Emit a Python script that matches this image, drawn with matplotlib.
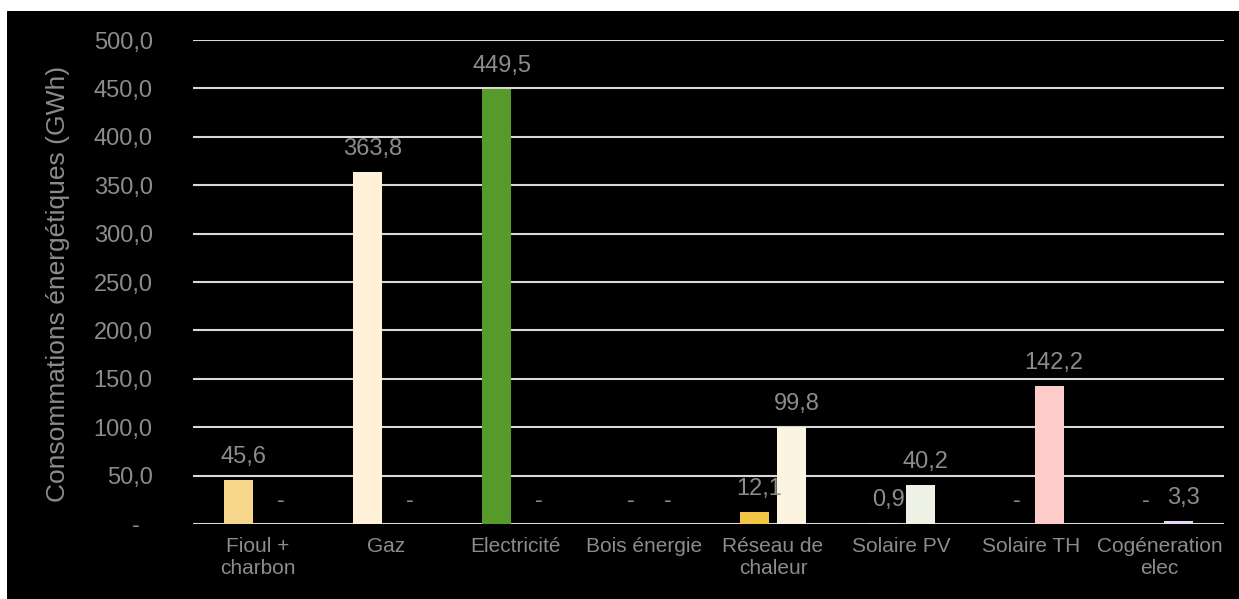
import matplotlib.pyplot as plt
import matplotlib.patches as mpatches
import numpy as np

# Données (GWh)
categories = ["Fioul +\ncharbon", "Gaz", "Electricité", "Bois énergie",
              "Réseau de\nchaleur", "Solaire PV", "Solaire TH", "Cogéneration\nelec"]
serie_1 = [45.6, 363.8, 449.5, 0.0, 12.1, 0.9, 0.0, 0.0]
serie_2 = [0.0, 0.0, 0.0, 0.0, 99.8, 40.2, 142.2, 3.3]
couleurs_1 = ["#F6D68B", "#FFF0D8", "#559A2A", "#D9D9D9",
              "#F3C545", "#E6EDD8", "#FFCCCC", "#EBD5F5"]
couleurs_2 = ["#F6D68B", "#FFF0D8", "#559A2A", "#D9D9D9",
              "#FCF3E1", "#EEF2E4", "#FFCCCC", "#EBD5F5"]
yticks = [0, 50, 100, 150, 200, 250, 300, 350, 400, 450, 500]

GRIS = "#8C8C8C"
plt.rcParams['font.family'] = ['Liberation Sans', 'DejaVu Sans']
plt.rcParams['font.size'] = 15

fig = plt.figure(figsize=(12.39, 5.99), dpi=100, facecolor="white")
# fond noir du graphique (avec une petite bordure blanche en haut / à gauche)
fond = mpatches.Rectangle((7 / 1239, 0), 1, (599 - 11) / 599,
                          transform=fig.transFigure, facecolor="black",
                          edgecolor="none", zorder=-10)
fig.patches.append(fond)

ax = fig.add_axes([193 / 1239, 1 - 524 / 599, (1224 - 193) / 1239, (524 - 40) / 599])
ax.set_facecolor("black")

x = np.arange(len(categories))
largeur = 0.225
decalage = 0.1435
b1 = ax.bar(x - decalage, serie_1, largeur, color=couleurs_1, zorder=3)
b2 = ax.bar(x + decalage, serie_2, largeur, color=couleurs_2, zorder=3)


def fmt(v):
    return "-" if v == 0 else f"{v:.1f}".replace(".", ",")


for barres, valeurs in [(b1, serie_1), (b2, serie_2)]:
    for rect, v in zip(barres, valeurs):
        ax.annotate(fmt(v), (rect.get_x() + rect.get_width() / 2, rect.get_height()),
                    xytext=(3.6, 16.5), textcoords="offset points",
                    ha="center", va="center", color=GRIS, fontsize=17, zorder=4)

ax.set_xlim(-0.5, len(categories) - 0.5)
ax.set_ylim(0, 500)
ax.set_yticks(yticks)
ax.set_yticklabels(["-  " if t == 0 else f"{t:.1f}".replace(".", ",") for t in yticks],
                   fontsize=17)
ax.set_xticks(x)
ax.set_xticklabels(categories, linespacing=1.25)
ax.tick_params(axis="y", length=0, pad=29, colors=GRIS)
ax.tick_params(axis="x", length=0, pad=9, colors=GRIS)

ax.grid(axis="y", color="#D9D9D9", linewidth=1.5, zorder=1)
ax.set_axisbelow(True)
for s in ax.spines.values():
    s.set_visible(False)

fig.text(58 / 1239, 1 - 284 / 599, "Consommations énergétiques (GWh)", rotation=90,
         ha="center", va="center", color=GRIS, fontsize=19)

fig.savefig("out.png", dpi=100, facecolor=fig.get_facecolor())
